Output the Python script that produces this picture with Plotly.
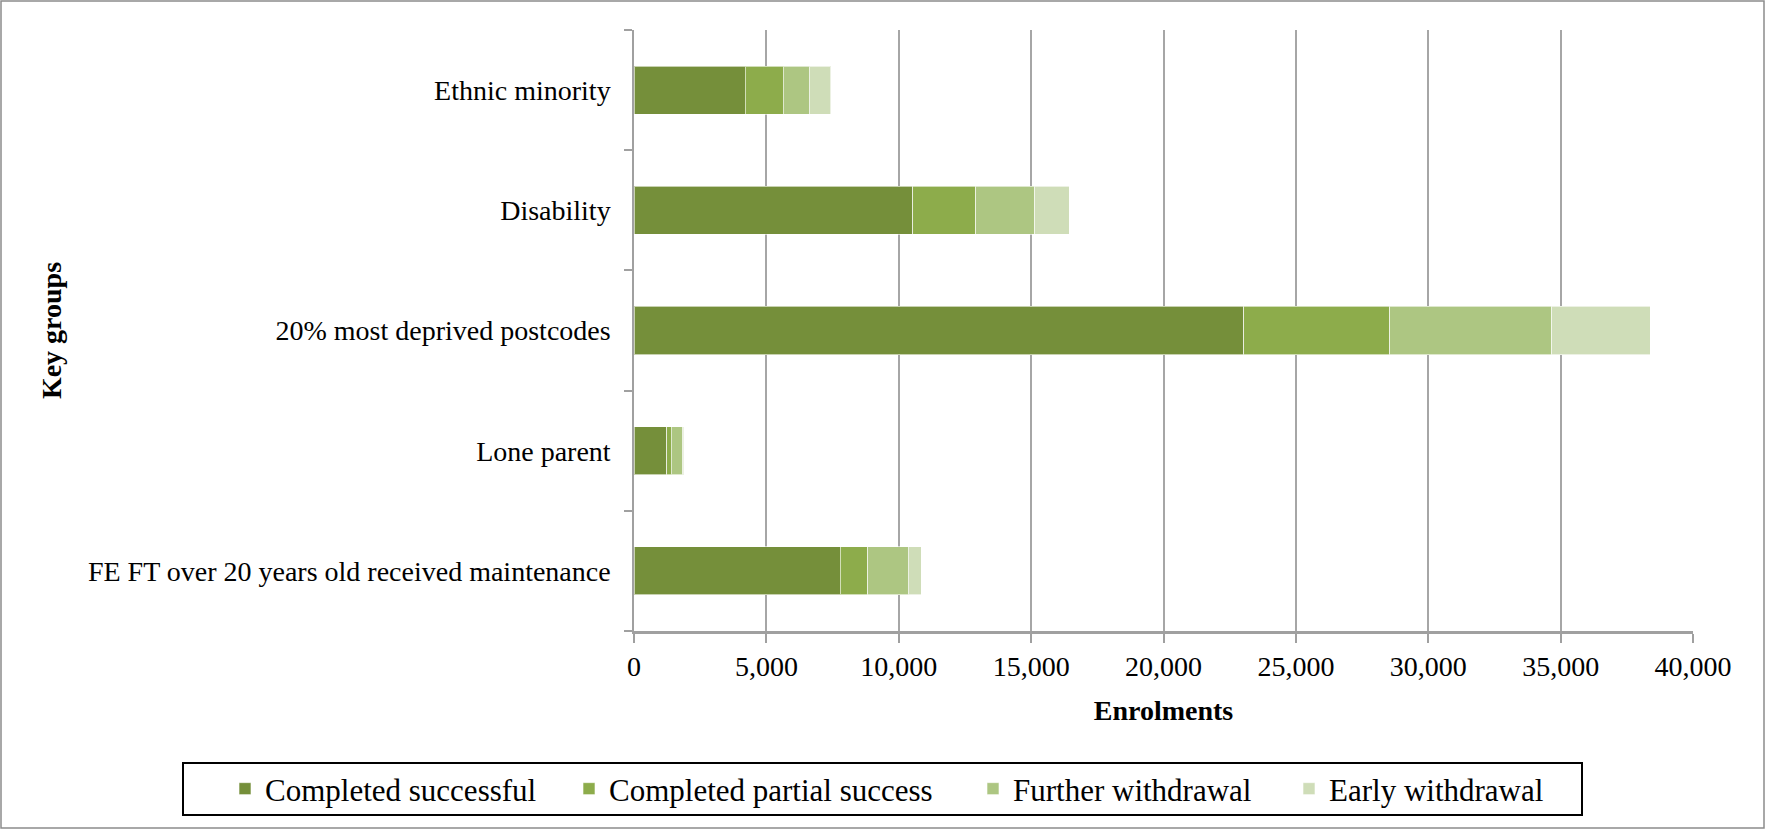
import plotly.graph_objects as go

# Enrolments by outcome for each key group
groups = [
    "FE FT over 20 years old received maintenance",
    "Lone parent",
    "20% most deprived postcodes",
    "Disability",
    "Ethnic minority",
]
completed_successful = [7790, 1230, 23030, 10530, 4210]
completed_partial = [1040, 185, 5520, 2380, 1430]
further_withdrawal = [1520, 410, 6110, 2220, 970]
early_withdrawal = [500, 55, 3720, 1310, 820]

series = [
    ("Completed successful", completed_successful, "#758F3A"),
    ("Completed partial success", completed_partial, "#8DAC4B"),
    ("Further withdrawal", further_withdrawal, "#ADC682"),
    ("Early withdrawal", early_withdrawal, "#CFDDB8"),
]

x_ticks = list(range(0, 40001, 5000))

W, H = 1766, 830
L, R, T, B = 634, 1693, 30, 631  # plot area in pixels
pw, ph = R - L, B - T

FONT = "Liberation Serif, Times New Roman, serif"


def px_x(p):
    return (p - L) / pw


def px_y(p):
    return (B - p) / ph


# each legend entry gets its own legend box so entries can be spaced freely
legend_left_px = [225, 569, 973, 1289]
legend_names = ["legend", "legend2", "legend3", "legend4"]

fig = go.Figure()
for (name, vals, color), lg in zip(series, legend_names):
    fig.add_trace(go.Bar(
        y=groups, x=vals, name=name, orientation="h", legend=lg, showlegend=True,
        marker=dict(color=color, line=dict(color="rgba(255,255,255,0.6)", width=1)),
    ))

shapes = [
    # outer frame
    dict(type="rect", xref="paper", yref="paper",
         x0=px_x(1), x1=px_x(W - 2), y0=px_y(H - 2), y1=px_y(1),
         line=dict(color="#8c8c8c", width=1.5), fillcolor="rgba(0,0,0,0)", layer="below"),
    # legend frame
    dict(type="rect", xref="paper", yref="paper",
         x0=px_x(183), x1=px_x(1582), y0=px_y(815), y1=px_y(763),
         line=dict(color="#000000", width=2), fillcolor="rgba(0,0,0,0)"),
]

legend_layout = {}
for lg, lx in zip(legend_names, legend_left_px):
    legend_layout[lg] = dict(
        orientation="h", xref="paper", yref="paper", visible=True,
        x=px_x(lx), y=px_y(789), xanchor="left", yanchor="middle",
        font=dict(family=FONT, size=31, color="#000000"),
        bgcolor="rgba(0,0,0,0)", borderwidth=0, itemwidth=30,
    )

fig.update_layout(
    width=W, height=H,
    margin=dict(l=L, r=W - R, t=T, b=H - B, pad=0),
    barmode="stack", bargap=0.6, showlegend=True,
    plot_bgcolor="white", paper_bgcolor="white",
    font=dict(family=FONT, size=28, color="#000000"),
    shapes=shapes,
    xaxis=dict(
        range=[0, 40000], tickvals=x_ticks, tickformat=",d",
        showgrid=True, gridcolor="#a6a6a6", gridwidth=1.5,
        showline=True, linecolor="#a0a0a0", linewidth=2.5,
        ticks="outside", ticklen=9, tickcolor="#a0a0a0", tickwidth=1.5,
        zeroline=False,
        title=dict(text="<b>Enrolments</b>", font=dict(family=FONT, size=28), standoff=20),
        tickfont=dict(family=FONT, size=28),
    ),
    yaxis=dict(
        type="category", categoryorder="array", categoryarray=groups,
        showline=True, linecolor="#a0a0a0", linewidth=1.5,
        ticks="outside", tickson="boundaries", ticklen=8, tickcolor="#a0a0a0", tickwidth=1.5,
        showgrid=False, ticklabelstandoff=16,
        title=dict(text="<b>Key groups</b>", font=dict(family=FONT, size=28), standoff=18),
        tickfont=dict(family=FONT, size=28),
    ),
    **legend_layout,
)

fig.write_html("out.html")
